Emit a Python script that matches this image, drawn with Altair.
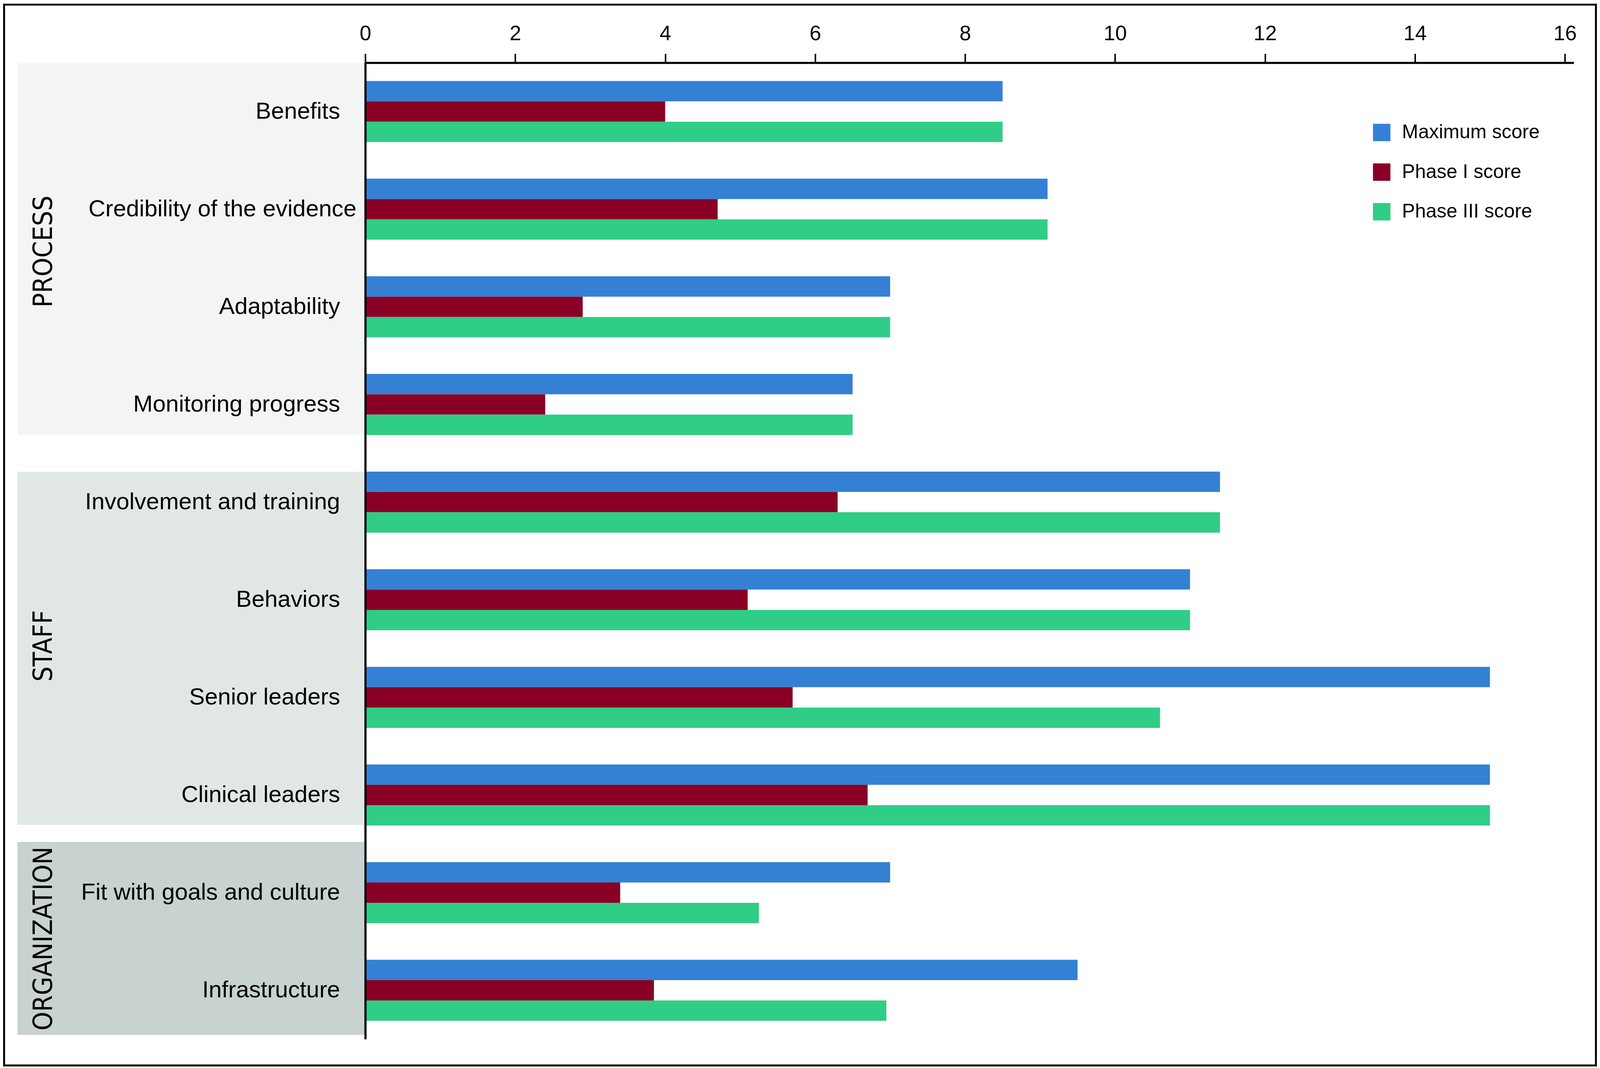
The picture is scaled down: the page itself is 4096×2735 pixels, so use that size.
import altair as alt
import pandas as pd

# ---------------- data ----------------
categories = [
    "Benefits", "Credibility of the evidence", "Adaptability", "Monitoring progress",
    "Involvement and training", "Behaviors", "Senior leaders", "Clinical leaders",
    "Fit with goals and culture", "Infrastructure",
]
series_names = ["Maximum score", "Phase I score", "Phase III score"]
maximum_score = [8.5, 9.1, 7.0, 6.5, 11.4, 11.0, 15.0, 15.0, 7.0, 9.5]
phase1_score = [4.0, 4.7, 2.9, 2.4, 6.3, 5.1, 5.7, 6.7, 3.4, 3.85]
phase3_score = [8.5, 9.1, 7.0, 6.5, 11.4, 11.0, 10.6, 15.0, 5.25, 6.95]
tick_values = [0, 2, 4, 6, 8, 10, 12, 14, 16]
group_names = ["PROCESS", "STAFF", "ORGANIZATION"]

colors = ["#3480D5", "#8A0025", "#2FCD86"]
group_fills = ["#F3F5F4", "#E1E7E5", "#C8D2D0"]

rows = []
for cat, a, b, c in zip(categories, maximum_score, phase1_score, phase3_score):
    for name, v in zip(series_names, [a, b, c]):
        rows.append({"category": cat, "series": name, "value": v})
df = pd.DataFrame(rows)

# ---------------- layout (reference px -> output px) ----------------
s = 0.972
M = 8  # page margin
REF_X0, REF_X1, REF_Y0, REF_Y1 = 963, 4149, 164, 2739
REF_PER_UNIT = (4125.7 - 963) / 16.0
XMAX = (REF_X1 - REF_X0) / REF_PER_UNIT

OX = REF_X0 * s - M
OY = REF_Y0 * s - M
W = (REF_X1 - REF_X0) * s
H = (REF_Y1 - REF_Y0) * s
TOT_W = 4210 * s - M
TOT_H = 2811 * s - M


def rx(ref):
    return ref * s - M - OX


def ry(ref):
    return ref * s - M - OY


narrow = "Liberation Sans Narrow, DejaVu Sans Condensed, sans-serif"
regular = "Liberation Sans, Arial, sans-serif"

one = pd.DataFrame({"k": [0]})

# group backgrounds
group_spans = [(165, 1145), (1243, 2174), (2219, 2728)]
group_centers = [662, 1702, 2474]
layers = []
for (y0, y1), fill in zip(group_spans, group_fills):
    layers.append(
        alt.Chart(one).mark_rect(fill=fill, stroke=None).encode(
            x=alt.value(rx(46)), x2=alt.value(rx(961)),
            y=alt.value(ry(y0)), y2=alt.value(ry(y1)),
        )
    )
for name, yc in zip(group_names, group_centers):
    layers.append(
        alt.Chart(pd.DataFrame({"g": [name]})).mark_text(
            angle=270, align="center", baseline="middle",
            font=narrow, fontSize=68, color="black",
        ).encode(
            x=alt.value(rx(116)), y=alt.value(ry(yc)), text="g:N"
        )
    )

LEG_FS = 50
SYM = 44.7
bars = alt.Chart(df).mark_bar(strokeWidth=0).encode(
    x=alt.X(
        "value:Q",
        scale=alt.Scale(domain=[0, XMAX], nice=False, zero=True),
        axis=alt.Axis(
            orient="top", values=tick_values, title=None, grid=False,
            domainColor="black", domainWidth=5.5,
            tickColor="black", tickWidth=3.9, tickSize=23.3,
            labelFont=regular, labelFontSize=53.5, labelColor="black",
            labelPadding=24, labelFlush=False, labelOverlap=False, zindex=1,
        ),
    ),
    y=alt.Y(
        "category:N", sort=categories,
        scale=alt.Scale(paddingInner=0.375, paddingOuter=0.1875),
        axis=alt.Axis(
            title=None, ticks=False, tickSize=0,
            domainColor="black", domainWidth=5.5,
            labelFont=regular, labelFontSize=60, labelColor="black",
            labelPadding={
                "condition": {"test": "datum.value === 'Credibility of the evidence'", "value": 23},
                "value": 65,
            },
            labelAlign="right", labelBaseline="middle",
            labelLimit=2000, zindex=1,
        ),
    ),
    yOffset=alt.YOffset(
        "series:N", sort=series_names,
        scale=alt.Scale(paddingInner=0, paddingOuter=0),
    ),
    color=alt.Color(
        "series:N", sort=series_names,
        scale=alt.Scale(domain=series_names, range=colors),
        legend=alt.Legend(
            title=None, orient="none",
            legendX=rx(3617), legendY=ry(325) - (LEG_FS - SYM) / 2,
            symbolType="square", symbolSize=SYM * SYM, symbolStrokeWidth=0,
            symbolOpacity=1,
            labelFont=regular, labelFontSize=LEG_FS, labelColor="black",
            labelOffset=27, rowPadding=101.6 - LEG_FS, padding=0, labelLimit=2000,
        ),
    ),
)
layers.append(bars)

# outer frame
layers.append(
    alt.Chart(one).mark_rect(fill=None, stroke="black", strokeWidth=4.9).encode(
        x=alt.value(2.5 - OX), x2=alt.value(rx(4207.5)),
        y=alt.value(2.5 - OY), y2=alt.value(ry(2808.5)),
    )
)

chart = alt.layer(*layers).properties(
    width=W, height=H,
    autosize=alt.AutoSizeParams(type="none"),
    padding={"left": OX, "top": OY, "right": TOT_W - OX - W, "bottom": TOT_H - OY - H},
    background="white",
).configure_view(strokeWidth=0)

chart.save("out.html", embed_options={"renderer": "svg", "actions": False})
